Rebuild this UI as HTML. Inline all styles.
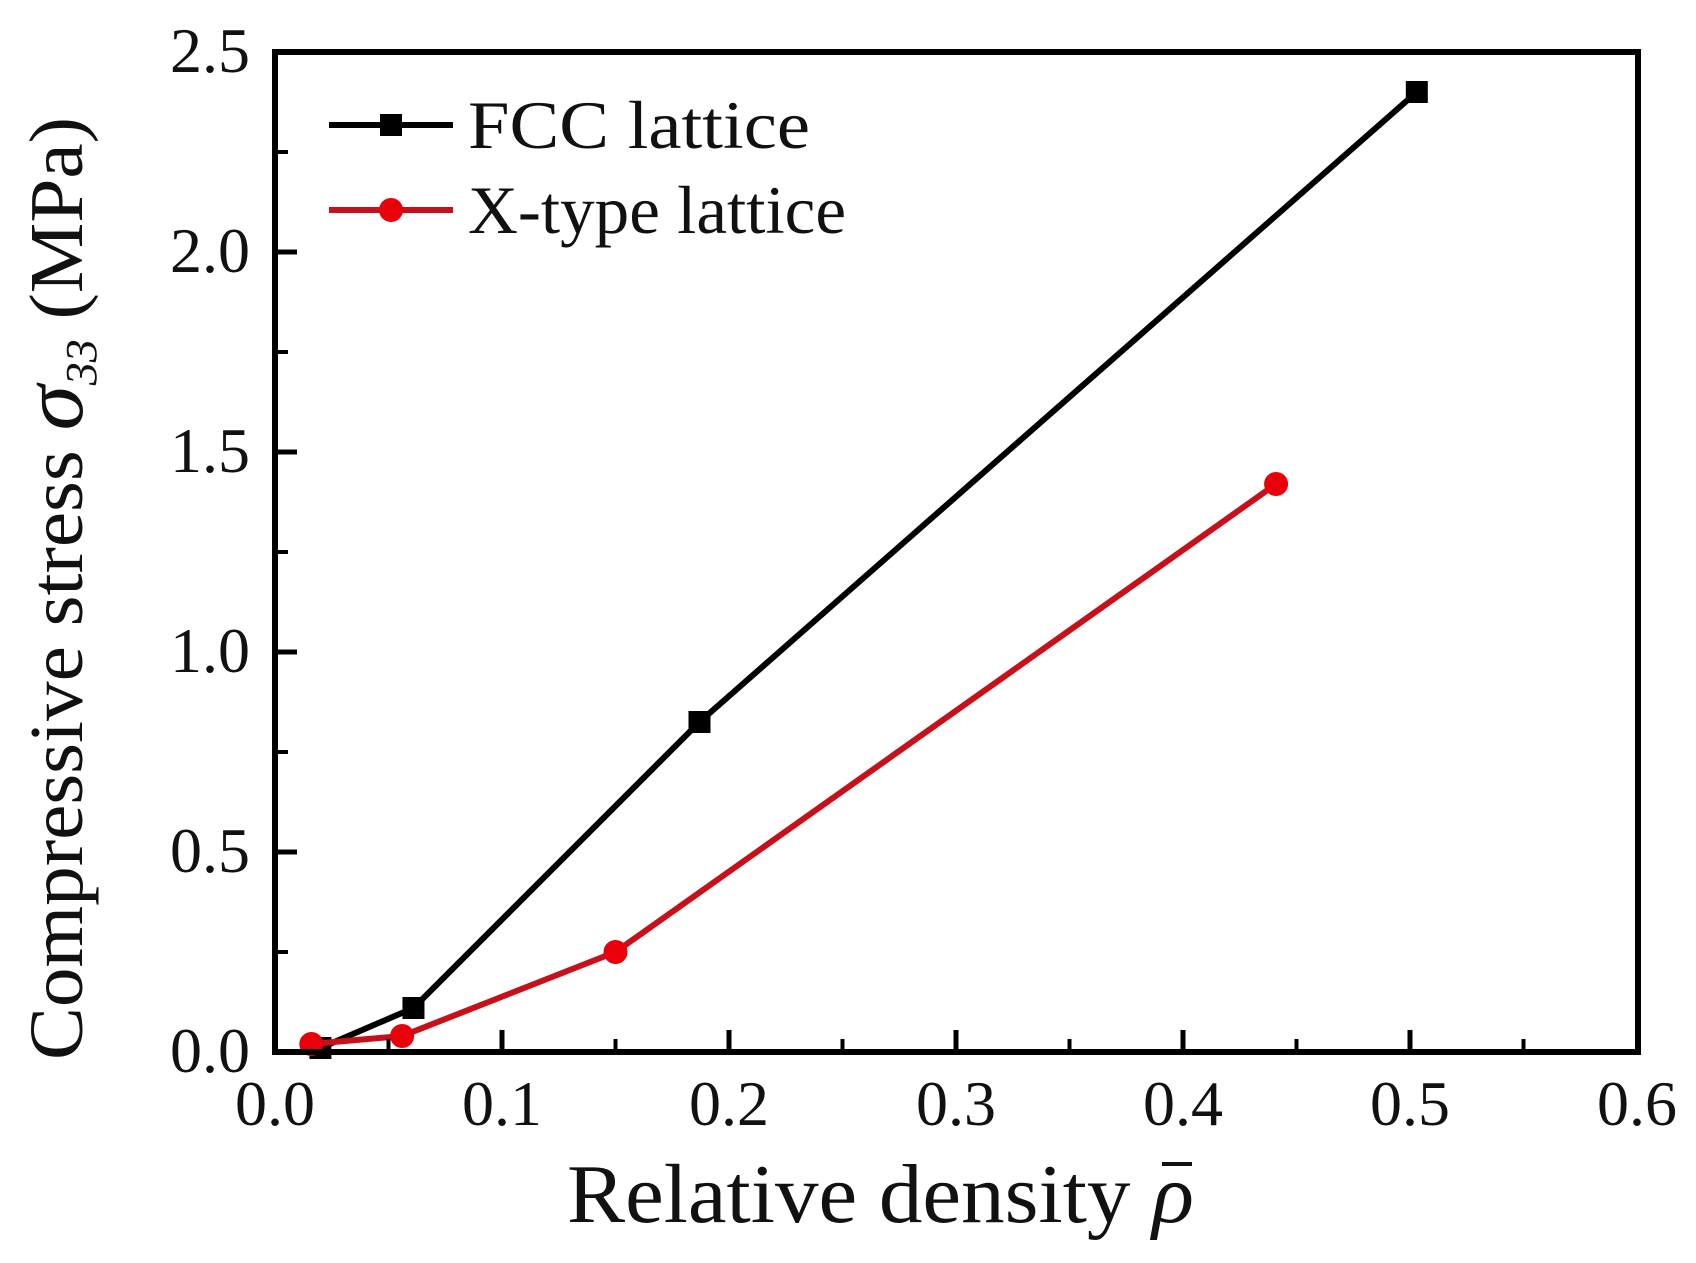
<!DOCTYPE html>
<html><head><meta charset="utf-8"><style>
html,body{margin:0;padding:0;background:#fff}
svg{display:block}
text{font-family:"Liberation Serif",serif;fill:#111}
</style></head><body>
<svg id="chart" width="1696" height="1263" viewBox="0 0 1696 1263" xmlns="http://www.w3.org/2000/svg">
<g id="plot"></g>
<rect x="275" y="52" width="1363" height="1000" fill="none" stroke="#000" stroke-width="6"/>
<g id="ticks"></g>
<text x="567" y="1222" font-size="84" textLength="627" lengthAdjust="spacingAndGlyphs">Relative density <tspan font-style="italic">ρ</tspan></text>
<line x1="1162" y1="1164" x2="1192" y2="1164" stroke="#111" stroke-width="4"/>
<text transform="translate(82,1060) rotate(-90)" x="0" y="0" font-size="76" textLength="943" lengthAdjust="spacingAndGlyphs">Compressive stress <tspan font-style="italic" font-size="88">σ</tspan><tspan font-style="italic" font-size="44" dy="14">33</tspan><tspan dy="-14"> (MPa)</tspan></text>
<g>
<g>
<line x1="329" y1="125" x2="453" y2="125" stroke="#000" stroke-width="6"/>
<rect x="380" y="114" width="22" height="22" fill="#000"/>
<text x="468" y="148" font-size="68" textLength="342" lengthAdjust="spacingAndGlyphs">FCC lattice</text>
</g>
<g>
<line x1="329" y1="210" x2="453" y2="210" stroke="#c8101a" stroke-width="6"/>
<circle cx="391" cy="210" r="12" fill="#e8000a"/>
<text x="468" y="233" font-size="68" textLength="378" lengthAdjust="spacingAndGlyphs">X-type lattice</text>
</g>
</g>
</svg>
<script>
const fccX=[0.02,0.061,0.187,0.503];
const fccY=[0.01,0.11,0.825,2.40];
const xtX=[0.016,0.056,0.150,0.441];
const xtY=[0.02,0.04,0.25,1.42];
const xTicks=[0,0.1,0.2,0.3,0.4,0.5,0.6];
const xTickLabels=["0.0","0.1","0.2","0.3","0.4","0.5","0.6"];
const yTicks=[0,0.5,1.0,1.5,2.0,2.5];
const yTickLabels=["0.0","0.5","1.0","1.5","2.0","2.5"];
const NS="http://www.w3.org/2000/svg";
function sx(v){return 275+v*2270;}
function sy(v){return 1052-v*400;}
function mk(tag,attrs,parent){const e=document.createElementNS(NS,tag);for(const k in attrs)e.setAttribute(k,attrs[k]);parent.appendChild(e);return e;}
const plot=document.getElementById('plot');
const ticks=document.getElementById('ticks');
xTicks.forEach((v,i)=>{
  if(i>0&&i<xTicks.length-1){const t=mk('line',{x1:sx(v),y1:1052,x2:sx(v),y2:1030,stroke:'#000','stroke-width':5},ticks);
  
  }
  if(i<xTicks.length-1){const m=mk('line',{x1:sx(v+0.05),y1:1052,x2:sx(v+0.05),y2:1039,stroke:'#000','stroke-width':4},ticks);
  
  }
  const l=mk('text',{x:sx(v),y:1125,'font-size':64,'text-anchor':'middle'},ticks);
  l.textContent=xTickLabels[i];
  
  
});
yTicks.forEach((v,i)=>{
  if(i>0&&i<yTicks.length-1){const t=mk('line',{x1:275,y1:sy(v),x2:297,y2:sy(v),stroke:'#000','stroke-width':5},ticks);
  
  }
  if(i<yTicks.length-1){const m=mk('line',{x1:275,y1:sy(v+0.25),x2:288,y2:sy(v+0.25),stroke:'#000','stroke-width':4},ticks);
  
  }
  const l=mk('text',{x:250,y:sy(v)+20,'font-size':64,'text-anchor':'end'},ticks);
  l.textContent=yTickLabels[i];
  
  
});
function series(xs,ys,color,mcolor,shape,name){
  const pts=xs.map((x,i)=>sx(x)+','+sy(ys[i])).join(' ');
  const pl=mk('polyline',{points:pts,fill:'none',stroke:color,'stroke-width':6,'stroke-linejoin':'round'},plot);
  
  
  xs.forEach((x,i)=>{
    let m;
    if(shape==='square') m=mk('rect',{x:sx(x)-11,y:sy(ys[i])-11,width:22,height:22,fill:mcolor},plot);
    else m=mk('circle',{cx:sx(x),cy:sy(ys[i]),r:12,fill:mcolor},plot);
    
    
  });
}
series(fccX,fccY,'#000','#000','square','fcc');
series(xtX,xtY,'#c8101a','#e8000a','circle','x-type');
</script>
</body></html>
